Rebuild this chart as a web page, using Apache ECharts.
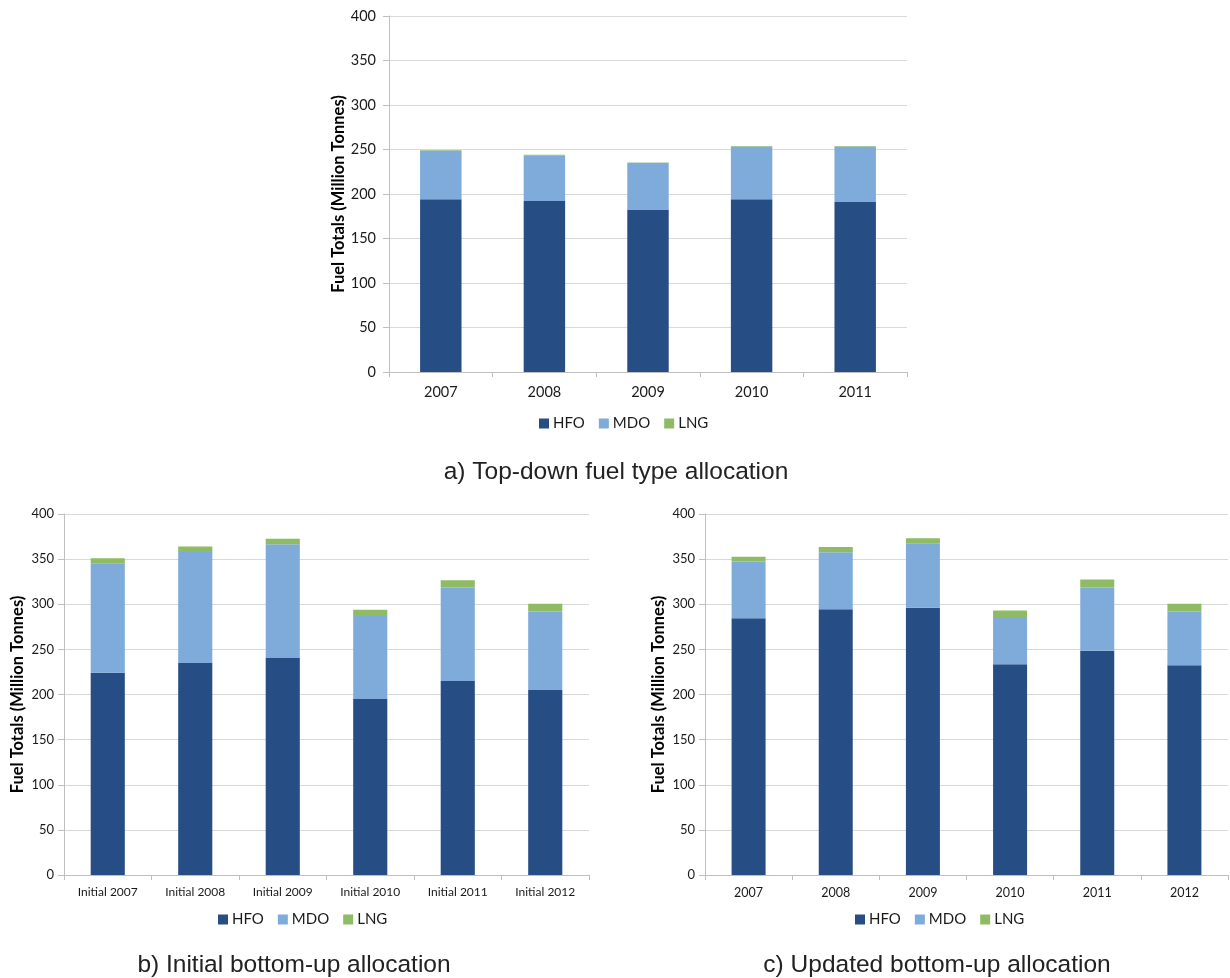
<!DOCTYPE html>
<html>
<head>
<meta charset="utf-8">
<script src="https://cdn.jsdelivr.net/npm/echarts@6/dist/echarts.min.js"></script>
<style>
html,body{margin:0;padding:0;background:#fff;}
#c{width:1230px;height:978px;}
</style>
</head>
<body>
<div id="c"></div>
<script>
// ---- data ----
const seriesNames = ['HFO', 'MDO', 'LNG'];
const yTicks = [0, 50, 100, 150, 200, 250, 300, 350, 400];

const catsA = ['2007', '2008', '2009', '2010', '2011'];
const hfoA = [194, 192, 182, 194, 191];
const mdoA = [55, 51.5, 53, 59.5, 62.5];
const lngA = [0.5, 0.5, 0.5, 0.5, 0.5];

const catsB = ['Initial 2007', 'Initial 2008', 'Initial 2009', 'Initial 2010', 'Initial 2011', 'Initial 2012'];
const hfoB = [224, 235, 241, 195, 215, 205];
const mdoB = [121.5, 123, 125.5, 92, 103.5, 87];
const lngB = [5.5, 6, 6, 7, 8, 8.5];

const catsC = ['2007', '2008', '2009', '2010', '2011', '2012'];
const hfoC = [284.5, 294.5, 296, 233.5, 248.5, 232.5];
const mdoC = [63, 63, 71, 52.5, 70, 59.5];
const lngC = [5, 6, 6, 7, 9, 8.5];

const subtitles = ['a) Top-down fuel type allocation', 'b) Initial bottom-up allocation', 'c) Updated bottom-up allocation'];
const yName = 'Fuel Totals (Million Tonnes)';

// ---- styling ----
const colors = ['#264E84', '#7FABDB', '#8EBB64'];
const font = 'Lato, "Open Sans", sans-serif';
const chart = echarts.init(document.getElementById('c'), null, {renderer: 'canvas'});

const grids = [
  {left: 389, top: 16, width: 518, height: 356},
  {left: 64, top: 514, width: 525, height: 361},
  {left: 705, top: 514, width: 523, height: 361}
];
const catSets = [catsA, catsB, catsC];
const dataSets = [[hfoA, mdoA, lngA], [hfoB, mdoB, lngB], [hfoC, mdoC, lngC]];
const barWidths = ['40%', '39%', '39%'];
const catFont = [14.5, 12, 12.5];
const catMargin = [13, 11, 11];
const yFont = [14.5, 13, 13];
const yMargin = [13, 10, 10];

const xAxes = catSets.map((cats, i) => ({
  type: 'category', gridIndex: i, data: cats,
  axisLine: {lineStyle: {color: '#bfbfbf'}},
  axisTick: {show: true, length: 5, lineStyle: {color: '#bfbfbf'}},
  axisLabel: {color: '#1a1a1a', fontFamily: font, fontSize: catFont[i], margin: catMargin[i]}
}));
const yAxes = catSets.map((c, i) => ({
  type: 'value', gridIndex: i, min: yTicks[0], max: yTicks[yTicks.length - 1], interval: yTicks[1] - yTicks[0],
  name: yName, nameLocation: 'middle', nameGap: 38,
  nameTextStyle: {fontFamily: font, fontWeight: 'bold', fontSize: 16.5, color: '#000'},
  axisLine: {show: true, lineStyle: {color: '#bfbfbf'}},
  axisTick: {show: true, length: 6, lineStyle: {color: '#bfbfbf'}},
  splitLine: {lineStyle: {color: '#d9d9d9'}},
  axisLabel: {color: '#1a1a1a', fontFamily: font, fontSize: yFont[i], margin: yMargin[i]}
}));

const series = [];
dataSets.forEach((set, gi) => {
  set.forEach((vals, si) => {
    series.push({
      name: seriesNames[si], type: 'bar', stack: 'g' + gi,
      xAxisIndex: gi, yAxisIndex: gi, data: vals,
      barWidth: barWidths[gi],
      itemStyle: {color: colors[si]},
      emphasis: {disabled: true}
    });
  });
});

const legendBase = {
  data: seriesNames, orient: 'horizontal', icon: 'rect',
  itemWidth: 10, itemHeight: 10, itemGap: 14,
  textStyle: {fontFamily: font, fontSize: 15, color: '#1a1a1a', padding: [0, 0, 0, -1]},
  selectedMode: false
};
const legends = [
  Object.assign({}, legendBase, {left: 534, top: 411}),
  Object.assign({}, legendBase, {left: 213, top: 907}),
  Object.assign({}, legendBase, {left: 850, top: 907})
];

const subPos = [[616, 472], [294, 965], [937, 965]];
const graphic = subtitles.map((t, i) => ({
  type: 'text', x: subPos[i][0], y: subPos[i][1],
  style: {text: t, fill: '#222', font: '24.5px "Liberation Sans", Arial, sans-serif', textAlign: 'center', textVerticalAlign: 'middle'}
}));

chart.setOption({
  animation: false,
  color: colors,
  grid: grids,
  xAxis: xAxes,
  yAxis: yAxes,
  legend: legends,
  series: series,
  graphic: graphic
});
</script>
</body>
</html>
